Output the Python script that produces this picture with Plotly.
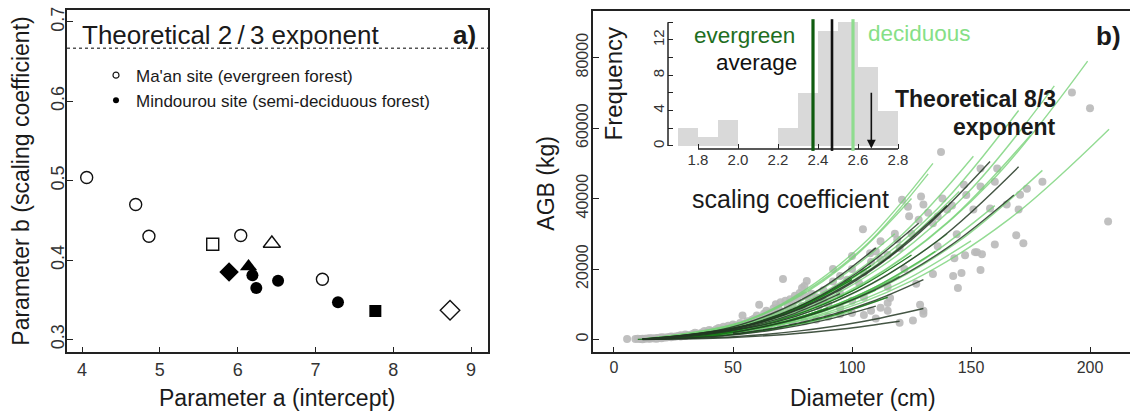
import plotly.graph_objects as go

W, H = 1130, 415
FONT = "Liberation Sans, Arial, sans-serif"
INK = "#1a1a1a"

# ---------------- panel a data ----------------
maan_a = [4.06, 4.69, 4.86, 5.68, 6.04, 6.44, 7.09, 8.73]
maan_b = [0.504, 0.470, 0.430, 0.420, 0.431, 0.421, 0.376, 0.337]
maan_sym = ["circle", "circle", "circle", "square", "circle", "triangle-up", "circle", "diamond"]

mind_a = [5.89, 6.14, 6.19, 6.24, 6.52, 7.29, 7.77]
mind_b = [0.385, 0.392, 0.381, 0.365, 0.374, 0.347, 0.336]
mind_sym = ["diamond", "triangle-up", "circle", "circle", "circle", "circle", "square"]

THEORETICAL_B = 2 / 3
a_ticks = [4, 5, 6, 7, 8, 9]
b_ticks = [0.3, 0.4, 0.5, 0.6, 0.7]

# ---------------- panel b data (trees) ----------------
tree_d = [5.5, 9, 10, 11, 12, 12, 13, 14, 15, 15, 16, 17, 18, 18, 19, 20, 20, 21, 22, 23, 24, 24, 25, 26, 27,
          28, 28, 29, 30, 30, 31, 32, 33, 34, 34, 35, 36, 37, 38, 38, 39, 40, 40, 41, 42, 43, 44, 44, 45, 46,
          47, 48, 48, 49, 50, 50, 51, 52, 53, 54, 54, 55, 56, 57, 58, 58, 59, 60, 60, 61, 62, 63, 64, 64, 65,
          66, 67, 68, 68, 69, 70, 70, 71, 72, 73, 74, 75, 76, 77, 78, 79, 79, 80, 80, 81, 82, 83, 85, 86, 88,
          90, 92, 95,
          45, 50, 55, 60, 65, 70, 75, 80, 85, 90, 95, 100, 103, 105, 108, 110, 112, 115, 115, 116, 120, 125.6,
          128.6, 130, 130,
          98, 100, 104.6, 107.6, 112, 112, 119, 121, 123.5, 124, 127, 129, 130, 134, 134, 136, 136, 137.4, 140,
          142.5, 143, 144, 144.5, 146, 147, 147.5, 151, 151.7, 152.5, 154, 154, 154, 154.6, 158, 160, 160, 161,
          165, 169, 170, 170.6, 172, 173.5, 180, 192.4, 200, 207.6,
          88, 92, 95, 100, 105, 108, 110, 115, 118, 120, 125, 128, 132, 138, 142, 148, 115, 122, 105, 100, 95]
tree_agb = [150, 120, 200, 150, 250, 100, 200, 300, 250, 400, 350, 300, 450, 250, 500, 400, 650, 550, 600, 700,
            650, 900, 800, 900, 1000, 850, 1250, 1100, 1000, 1400, 1300, 1200, 1600, 1400, 1900, 1700, 1500,
            2000, 1800, 2400, 2200, 1900, 2700, 2500, 2300, 2900, 2600, 3300, 3000, 3600, 3200, 2800, 3900,
            3500, 3200, 4300, 4000, 3600, 4700, 6800, 3800, 4400, 5200, 4600, 5600, 3900, 6000, 5000, 6800,
            9900, 6200, 7300, 8200, 5300, 7600, 6500, 8800, 7600, 10000, 9100, 8000, 10600, 17200, 11000, 9300,
            11400, 10000, 12400, 11800, 13200, 14600, 9500, 12500, 15200, 16600, 11000, 13000, 12000, 9500,
            11000, 10000, 20000, 13000,
            1800, 2300, 2700, 3200, 3800, 4200, 4800, 5200, 5600, 6500, 7200, 7500, 16000, 7000, 8200, 6000,
            9000, 8200, 10400, 11800, 4800, 5400, 9900, 7300, 8200,
            17000, 23700, 31300, 24500, 27900, 22800, 28400, 39700, 37700, 35000, 15800, 40600, 38300, 18600,
            33000, 26500, 34900, 53200, 36900, 18000, 23100, 29900, 14600, 18900, 43900, 23900, 36900, 24800,
            24800, 19700, 43400, 48500, 24200, 37200, 44800, 27000, 48500, 38300, 29600, 36900, 41100, 27300,
            42800, 44800, 70100, 65600, 33500,
            14000, 16500, 18000, 20000, 19000, 22000, 25000, 24000, 30000, 26000, 30000, 34000, 36000, 40000,
            38000, 41000, 15000, 20000, 12000, 11000, 9000]

# fitted allometric curves (diameter cm, AGB kg), grouped by colour
curve_group = ["dark", "dark", "dark", "dark", "dark", "dark", "dark", "dark", "dark", "dark", "dark",
               "dgreen", "dgreen", "dgreen", "dgreen", "dgreen",
               "mgreen", "mgreen", "mgreen",
               "lgreen", "lgreen", "lgreen", "lgreen", "lgreen", "lgreen", "lgreen", "lgreen", "lgreen",
               "lgreen", "lgreen", "lgreen", "lgreen", "lgreen", "lgreen", "lgreen"]
curve_d = [
    [12, 48, 72, 96, 120], [15, 52, 78, 104, 130], [12, 44, 66, 88, 110], [50, 70, 90, 110, 130],
    [12, 44, 66, 88, 110], [12, 51, 77, 102, 128], [15, 63, 95, 126, 158], [15, 68, 102, 136, 170],
    [50, 80, 110, 140, 168], [12, 38, 57, 76, 95], [15, 56, 84, 112, 140],
    [12, 40, 60, 80, 100], [12, 43, 65, 86, 108], [10, 36, 54, 72, 90], [12, 46, 69, 92, 115],
    [12, 50, 75, 100, 125],
    [12, 48, 72, 96, 120], [12, 54, 81, 108, 135], [12, 44, 66, 88, 110],
    [15, 80, 119, 159, 199], [15, 83, 125, 166, 208], [12, 53, 79, 106, 132], [12, 60, 91, 121, 151],
    [15, 74, 111, 148, 185], [12, 50, 75, 100, 125], [12, 58, 87, 116, 145], [15, 70, 105, 140, 175],
    [15, 64, 96, 128, 160], [15, 72, 108, 144, 180], [12, 47, 71, 94, 118], [12, 56, 84, 112, 140],
    [12, 40, 60, 80, 100], [12, 60, 90, 120, 150], [12, 54, 80, 107, 134], [15, 68, 102, 136, 170]]
curve_agb = [
    [30, 530, 1450, 2980, 5200], [50, 890, 2450, 5040, 8800], [40, 960, 2650, 5440, 9500],
    [1560, 3610, 6770, 11200, 17000], [160, 2630, 7250, 14880, 26000], [90, 3340, 9200, 18890, 33000],
    [140, 5110, 14080, 28900, 50500], [110, 4960, 13670, 28050, 49000], [1980, 6420, 14230, 26000, 41000],
    [70, 1320, 3630, 7440, 13000], [140, 3850, 10600, 21750, 38000],
    [80, 1720, 4740, 9730, 17000], [90, 2130, 5860, 12020, 21000], [40, 910, 2510, 5150, 9000],
    [50, 1210, 3350, 6870, 12000], [80, 2430, 6690, 13740, 24000],
    [60, 1820, 5020, 10300, 18000], [70, 2530, 6970, 14310, 25000], [50, 1420, 3900, 8010, 14000],
    [120, 8000, 22000, 45200, 79000], [80, 6040, 16650, 34170, 59700], [120, 4760, 13110, 26900, 47000],
    [90, 5260, 14500, 29760, 52000], [130, 7290, 20080, 41210, 72000], [130, 4050, 11160, 22900, 40000],
    [80, 4250, 11710, 24040, 42000], [110, 5870, 16180, 33200, 58000], [80, 3850, 10600, 21750, 38000],
    [90, 4860, 13390, 27480, 48000], [100, 3040, 8370, 17170, 30000], [70, 3040, 8370, 17170, 30000],
    [40, 810, 2230, 4580, 8000], [50, 2830, 7810, 16030, 28000], [140, 5060, 13950, 28620, 50000],
    [140, 6580, 18130, 37200, 65000]]
CURVE_COLORS = {"dark": "rgba(35,55,35,0.85)", "dgreen": "rgba(20,120,20,0.9)",
                "mgreen": "rgba(70,180,70,0.85)", "lgreen": "rgba(120,210,120,0.8)"}

d_ticks = [0, 50, 100, 150, 200]
agb_ticks = [0, 20000, 40000, 60000, 80000]

# ---------------- inset histogram ----------------
bin_centers = [1.75, 1.85, 1.95, 2.05, 2.15, 2.25, 2.35, 2.45, 2.55, 2.65, 2.75]
bin_counts = [2, 1, 3, 0, 0, 2, 6, 13, 14, 9, 4]
hist_ticks = [1.8, 2.0, 2.2, 2.4, 2.6, 2.8]
freq_ticks = [0, 2, 4, 6, 8, 10, 12, 14]
mean_evergreen = 2.375
mean_all = 2.47
mean_deciduous = 2.575
THEORETICAL_8_3 = 8 / 3


def px(x):
    return x / W


def py(y):
    return 1 - y / H


fig = go.Figure()

# ----- panel a -----
fig.add_trace(go.Scatter(
    x=maan_a, y=maan_b, mode="markers", xaxis="x", yaxis="y", showlegend=False,
    marker=dict(symbol=[s + "-open" for s in maan_sym], opacity=1,
                size=[12 if s in ("circle", "square") else 15 for s in maan_sym],
                color="#111", line=dict(width=1.4, color="#111"))))
fig.add_trace(go.Scatter(
    x=mind_a, y=mind_b, mode="markers", xaxis="x", yaxis="y", showlegend=False,
    marker=dict(symbol=mind_sym, size=[15 if s in ("diamond", "triangle-up") else 12 for s in mind_sym],
                color="black", opacity=1, line=dict(width=0))))
# legend entries
fig.add_trace(go.Scatter(x=[None], y=[None], mode="markers", xaxis="x", yaxis="y",
                         name="Ma'an site (evergreen forest)",
                         marker=dict(symbol="circle-open", size=6, color=INK, line=dict(width=1.2))))
fig.add_trace(go.Scatter(x=[None], y=[None], mode="markers", xaxis="x", yaxis="y",
                         name="Mindourou site (semi-deciduous forest)",
                         marker=dict(symbol="circle", size=6, color="black")))

# ----- panel b -----
fig.add_trace(go.Scatter(x=tree_d, y=tree_agb, mode="markers", xaxis="x2", yaxis="y2", showlegend=False,
                         marker=dict(size=8, color="rgba(185,185,185,0.9)", line=dict(width=0))))
for order in ("lgreen", "mgreen", "dgreen", "dark"):
    for g, dd, aa in zip(curve_group, curve_d, curve_agb):
        if g != order:
            continue
        fig.add_trace(go.Scatter(x=dd, y=aa, mode="lines", xaxis="x2", yaxis="y2", showlegend=False,
                                 line=dict(color=CURVE_COLORS[g], width=1.4, shape="spline")))

# inset histogram
fig.add_trace(go.Bar(x=bin_centers, y=bin_counts, width=0.1, xaxis="x3", yaxis="y3", showlegend=False,
                     marker=dict(color="#d9d9d9", line=dict(width=0))))

axis_common = dict(showgrid=False, zeroline=False, ticks="inside", tickcolor="#222")
font_a = dict(family=FONT, size=18, color="#333")
font_b = dict(family=FONT, size=16, color="#333")

fig.update_layout(
    width=W, height=H, margin=dict(l=0, r=0, t=0, b=0),
    paper_bgcolor="white", plot_bgcolor="rgba(0,0,0,0)",
    font=dict(family=FONT, color=INK),
    showlegend=True,
    legend=dict(x=px(96), y=py(55), xanchor="left", yanchor="top", bgcolor="rgba(0,0,0,0)",
                font=dict(family=FONT, size=17, color=INK), tracegroupgap=0, itemwidth=30),
    xaxis=dict(domain=[px(67), px(488)], range=[3.807, 9.218], tickvals=a_ticks, anchor="y",
               showline=True, mirror=True, linecolor="#222", linewidth=1.5, ticklen=6,
               tickfont=font_a, **axis_common),
    yaxis=dict(domain=[py(352), py(7)], range=[0.28375, 0.715], tickvals=b_ticks, anchor="x",
               tickangle=-90, showline=True, mirror=True, linecolor="#222", linewidth=1.5, ticklen=6,
               ticklabelstandoff=-6, tickfont=font_a, **axis_common),
    xaxis2=dict(domain=[px(593), 1.0], range=[-8.82, 216.8], tickvals=d_ticks, anchor="y2",
                showline=True, mirror=True, linecolor="#222", linewidth=1.5, ticklen=6,
                tickfont=font_b, **axis_common),
    yaxis2=dict(domain=[py(352), py(8)], range=[-3662, 93240], tickvals=agb_ticks,
                ticktext=[str(v) for v in agb_ticks], anchor="x2",
                tickangle=-90, showline=True, mirror=False, linecolor="#222", linewidth=1.5, ticklen=6,
                ticklabelstandoff=-3, tickfont=font_b, **axis_common),
    xaxis3=dict(domain=[px(668), px(910)], range=[1.65, 2.86], tickvals=hist_ticks,
                ticktext=[f"{v:.1f}" for v in hist_ticks], anchor="y3", showline=False, ticklen=5,
                showgrid=False, zeroline=False, ticks="inside", tickcolor="#222",
                tickfont=dict(family=FONT, size=15, color="#333")),
    yaxis3=dict(domain=[py(147), py(15)], range=[-0.337, 14.49], tickvals=freq_ticks,
                ticktext=[str(v) if v % 4 == 0 else "" for v in freq_ticks], anchor="x3",
                tickangle=-90, showline=False, ticklen=5, showgrid=False, zeroline=False, ticks="inside",
                tickcolor="#222", tickfont=dict(family=FONT, size=15, color="#333")),
    bargap=0,
)

shapes = [
    # theoretical 2/3 line
    dict(type="line", xref="x domain", x0=0, x1=1, yref="y", y0=THEORETICAL_B, y1=THEORETICAL_B,
         line=dict(color="#555", width=1.5, dash="dot")),
    # inset axis lines
    dict(type="line", xref="x3", x0=hist_ticks[0], x1=hist_ticks[-1], yref="y3 domain", y0=0, y1=0,
         line=dict(color="#222", width=1.5)),
    dict(type="line", xref="x3 domain", x0=0, x1=0, yref="y3", y0=freq_ticks[0], y1=freq_ticks[-1],
         line=dict(color="#222", width=1.5)),
    # mean lines
    dict(type="line", xref="x3", x0=mean_evergreen, x1=mean_evergreen, yref="y3 domain", y0=-0.015, y1=0.99,
         line=dict(color="#0f5c0f", width=3.2)),
    dict(type="line", xref="x3", x0=mean_all, x1=mean_all, yref="y3 domain", y0=-0.015, y1=0.99,
         line=dict(color="#111", width=2.6)),
    dict(type="line", xref="x3", x0=mean_deciduous, x1=mean_deciduous, yref="y3 domain", y0=-0.015, y1=0.99,
         line=dict(color="#8fdc8f", width=3.2)),
]
fig.update_layout(shapes=shapes)


def txt(text, x, y, size, color=INK, xanchor="center", angle=0, bold=False):
    return dict(text=f"<b>{text}</b>" if bold else text, x=px(x), y=py(y), xref="paper", yref="paper",
                xanchor=xanchor, yanchor="middle", showarrow=False, textangle=angle,
                font=dict(family=FONT, size=size, color=color))


annotations = [
    txt("Theoretical 2\u2009/\u20093 exponent", 230, 32, 26),
    txt("a)", 465, 32, 26, bold=True),
    txt("Parameter a (intercept)", 277, 398, 23),
    txt("Parameter b (scaling coefficient)", 21, 180, 23, angle=-90),
    txt("b)", 1108, 33, 26, bold=True),
    txt("Diameter (cm)", 863, 398, 23),
    txt("AGB (kg)", 546, 182, 23, angle=-90),
    txt("Frequency", 613, 82, 24, angle=-90),
    txt("scaling coefficient", 790, 197, 25),
    txt("evergreen", 797, 33, 22.5, color="#1e6e1e", xanchor="right"),
    txt("average", 799, 60, 22.5, color="#111", xanchor="right"),
    txt("deciduous", 866, 31, 22.5, color="#86df86", xanchor="left"),
    txt("Theoretical 8/3", 1058, 97, 23, xanchor="right", bold=True),
    txt("exponent", 1058, 125, 23, xanchor="right", bold=True),
    dict(text="", xref="x3", yref="y3", x=THEORETICAL_8_3, y=-0.3, axref="x3", ayref="y3",
         ax=THEORETICAL_8_3, ay=6.2, showarrow=True, arrowhead=2, arrowsize=1.1, arrowwidth=1.6,
         arrowcolor="#111"),
]
fig.update_layout(annotations=annotations)

fig.write_html("out.html")
